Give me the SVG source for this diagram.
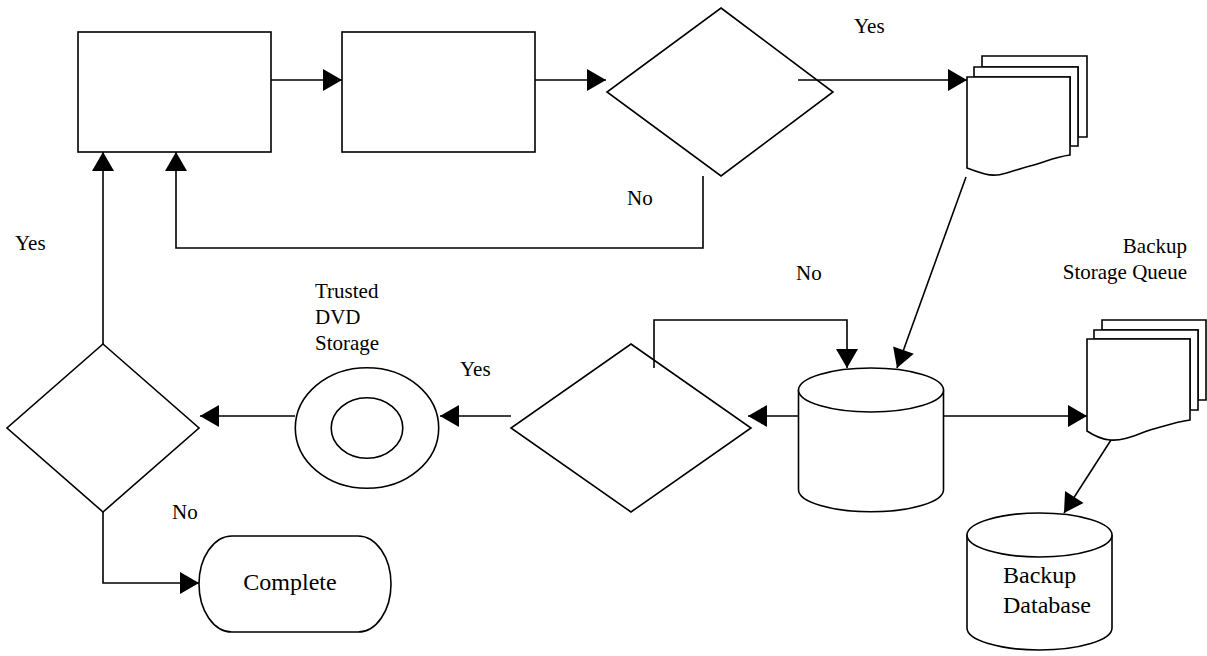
<svg xmlns="http://www.w3.org/2000/svg" width="1207" height="656" viewBox="0 0 1207 656">
<style>
.s{fill:#fff;stroke:#000;stroke-width:1.6}
.c{fill:none;stroke:#000;stroke-width:1.6}
.a{marker-end:url(#ah)}
.l{font-family:"Liberation Serif","Times New Roman",serif;font-size:21px;fill:#000}
.t{font-family:"Liberation Serif","Times New Roman",serif;font-size:24px;fill:#000}
</style>
<defs>
<marker id="ah" markerUnits="userSpaceOnUse" markerWidth="20" markerHeight="22" refX="19" refY="11" orient="auto" overflow="visible">
<path d="M0,0 L19,11 L0,22 z" fill="#000"/>
</marker>
</defs>
<rect width="1207" height="656" fill="#fff"/>
<g id="box1"><rect class="s" x="78" y="32" width="193" height="120"/></g>
<g id="box2"><rect class="s" x="342" y="32" width="193" height="120"/></g>
<g id="decision1"><polygon class="s" points="721,8 833,92 721,176 607,92"/></g>
<g id="queue1">
<path class="s" d="M982,56 H1087 V137 H1078 V67 H982 Z"/>
<path class="s" d="M974,67 H1078 V146 H1070 V77 H974 Z"/>
<path class="s" d="M967,77 H1070 V155 C1055,157 1045,162 1030,166 C1010,171 1000,178 985,174 C978,172 972,170 967,168 Z"/>
</g>
<g id="database">
<path class="s" d="M798.5,390 V489.7 A72.5,22 0 0 0 943.5,489.7 V390"/>
<ellipse class="s" cx="871" cy="390" rx="72.5" ry="22"/>
</g>
<g id="decision2"><polygon class="s" points="631,344 751,428 631,512 511,428"/></g>
<g id="dvd">
<ellipse class="s" cx="367" cy="428" rx="71.7" ry="60.3"/>
<ellipse class="s" cx="367" cy="428" rx="35.8" ry="30.3"/>
<text class="l" x="315" y="298">Trusted</text>
<text class="l" x="315" y="324">DVD</text>
<text class="l" x="315" y="350">Storage</text>
</g>
<g id="decision3"><polygon class="s" points="103,344 199,428 103,512 7,428"/></g>
<g id="complete">
<rect class="s" x="199" y="536" width="192" height="96" rx="33" ry="48"/>
<text class="t" x="290" y="590" text-anchor="middle">Complete</text>
</g>
<g id="queue2">
<path class="s" d="M1102,320 H1206 V400 H1198 V330 H1102 Z"/>
<path class="s" d="M1094,330 H1198 V410 H1190 V339 H1094 Z"/>
<path class="s" d="M1087,339 H1190 V420 C1175,422 1165,426 1150,430 C1135,435 1125,441 1110,440 C1100,439 1093,435 1087,431 Z"/>
<text class="l" x="1187" y="253" text-anchor="end">Backup</text>
<text class="l" x="1187" y="279" text-anchor="end">Storage Queue</text>
</g>
<g id="backupdb">
<path class="s" d="M967,535 V628 A72.5,22 0 0 0 1112,628 V535"/>
<ellipse class="s" cx="1039.5" cy="535" rx="72.5" ry="22"/>
<text class="t" x="1003" y="583">Backup</text>
<text class="t" x="1003" y="613">Database</text>
</g>
<g id="connectors">
<path class="c a" d="M271,80 H342"/>
<path class="c a" d="M535,80 H606"/>
<path class="c a" d="M798,80 H967"/>
<path class="c a" d="M703,176 V248 H176 V152"/>
<path class="c a" d="M966,177 L897,368"/>
<path class="c a" d="M654,368 V320 H847 V368"/>
<path class="c a" d="M798,416 H748"/>
<path class="c a" d="M511,416 H440"/>
<path class="c a" d="M295,416 H200"/>
<path class="c a" d="M103,344 V152"/>
<path class="c a" d="M103,512 V583 H199"/>
<path class="c a" d="M943,416 H1087"/>
<path class="c a" d="M1111,440 L1064,513"/>
<text class="l" x="854" y="33">Yes</text>
<text class="l" x="627" y="205">No</text>
<text class="l" x="15" y="250">Yes</text>
<text class="l" x="796" y="280">No</text>
<text class="l" x="460" y="376">Yes</text>
<text class="l" x="172" y="519">No</text>
</g>
</svg>
